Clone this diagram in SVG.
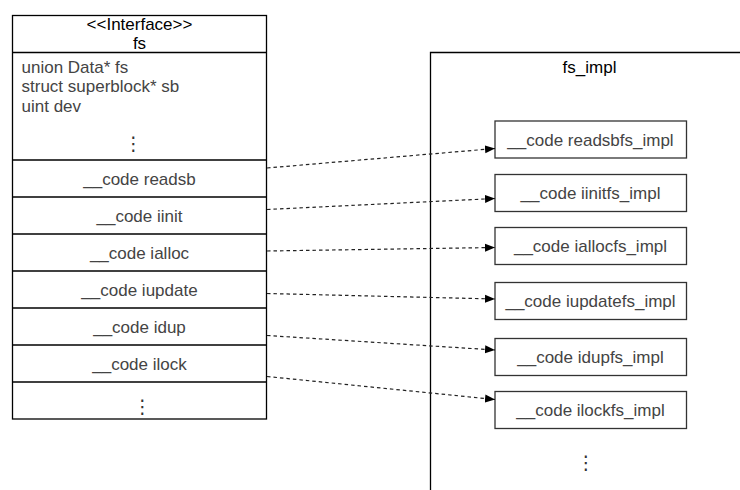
<svg xmlns="http://www.w3.org/2000/svg" width="740" height="490" viewBox="0 0 740 490">
<style>
.box{fill:#fff;stroke:#000;stroke-width:1.3}
.ibox{fill:#fff;stroke:#333;stroke-width:1.3}
.t{font-family:"Liberation Sans",Arial,"DejaVu Sans",sans-serif;font-size:17px;fill:#444}
.h{font-family:"Liberation Sans",Arial,"DejaVu Sans",sans-serif;font-size:17px;fill:#000}
.c{text-anchor:middle}
.dots{font-family:"DejaVu Sans",sans-serif;font-size:19px;fill:#333;text-anchor:middle}
.conn{fill:none;stroke:#222;stroke-width:1.2;stroke-dasharray:3.5 3}
</style>
<defs>
<marker id="arr" markerUnits="userSpaceOnUse" markerWidth="10" markerHeight="10" viewBox="0 0 10 10" refX="10" refY="5" orient="auto">
<path d="M0,1 L10,5 L0,9 Z" fill="#000"/>
</marker>
</defs>

<g id="fs">
<rect class="box" x="12.5" y="15.5" width="254" height="403.5"/>
<line class="box" x1="12.5" y1="52.5" x2="266.5" y2="52.5"/>
<line class="box" x1="12.5" y1="160" x2="266.5" y2="160"/>
<line class="box" x1="12.5" y1="197" x2="266.5" y2="197"/>
<line class="box" x1="12.5" y1="234" x2="266.5" y2="234"/>
<line class="box" x1="12.5" y1="271" x2="266.5" y2="271"/>
<line class="box" x1="12.5" y1="308" x2="266.5" y2="308"/>
<line class="box" x1="12.5" y1="345" x2="266.5" y2="345"/>
<line class="box" x1="12.5" y1="382" x2="266.5" y2="382"/>
<text class="h c" x="139.5" y="29.5">&lt;&lt;Interface&gt;&gt;</text>
<text class="h c" x="139.5" y="49">fs</text>
<text class="t" x="21.5" y="72.5">union Data* fs</text>
<text class="t" x="21.5" y="92">struct superblock* sb</text>
<text class="t" x="21.5" y="111.5">uint dev</text>
<text class="dots" x="133.5" y="150">⋮</text>
<text class="t c" x="139.5" y="184.5">__code readsb</text>
<text class="t c" x="139.5" y="221.5">__code iinit</text>
<text class="t c" x="139.5" y="258.5">__code ialloc</text>
<text class="t c" x="139.5" y="295.5">__code iupdate</text>
<text class="t c" x="139.5" y="332.5">__code idup</text>
<text class="t c" x="139.5" y="369.5">__code ilock</text>
<text class="dots" x="142.5" y="413">⋮</text>
</g>

<g id="fs_impl">
<path d="M741,52.5 H430.5 V491" fill="none" stroke="#000" stroke-width="1.3"/>
<text class="h c" x="589.5" y="72.5">fs_impl</text>
<text class="dots" x="586" y="469">⋮</text>
</g>

<g id="readsbfs_impl">
<rect class="ibox" x="495" y="121" width="191.5" height="37"/>
<text class="t c" x="590.5" y="145.5">__code readsbfs_impl</text>
</g>
<g id="iinitfs_impl">
<rect class="ibox" x="495" y="174.5" width="191.5" height="37"/>
<text class="t c" x="590.5" y="199">__code iinitfs_impl</text>
</g>
<g id="iallocfs_impl">
<rect class="ibox" x="495" y="227.5" width="191.5" height="37"/>
<text class="t c" x="590.5" y="252">__code iallocfs_impl</text>
</g>
<g id="iupdatefs_impl">
<rect class="ibox" x="495" y="282.5" width="191.5" height="37"/>
<text class="t c" x="590.5" y="307">__code iupdatefs_impl</text>
</g>
<g id="idupfs_impl">
<rect class="ibox" x="495" y="338.5" width="191.5" height="37"/>
<text class="t c" x="590.5" y="363">__code idupfs_impl</text>
</g>
<g id="ilockfs_impl">
<rect class="ibox" x="495" y="391.5" width="191.5" height="37"/>
<text class="t c" x="590.5" y="416">__code ilockfs_impl</text>
</g>

<g id="connectors">
<line class="conn" x1="267" y1="168" x2="495" y2="148.5" marker-end="url(#arr)"/>
<line class="conn" x1="267" y1="209.5" x2="495" y2="198.5" marker-end="url(#arr)"/>
<line class="conn" x1="267" y1="251" x2="495" y2="247.5" marker-end="url(#arr)"/>
<line class="conn" x1="267" y1="293.5" x2="495" y2="299" marker-end="url(#arr)"/>
<line class="conn" x1="267" y1="335.5" x2="495" y2="350" marker-end="url(#arr)"/>
<line class="conn" x1="267" y1="376.5" x2="495" y2="399.5" marker-end="url(#arr)"/>
</g>
</svg>
